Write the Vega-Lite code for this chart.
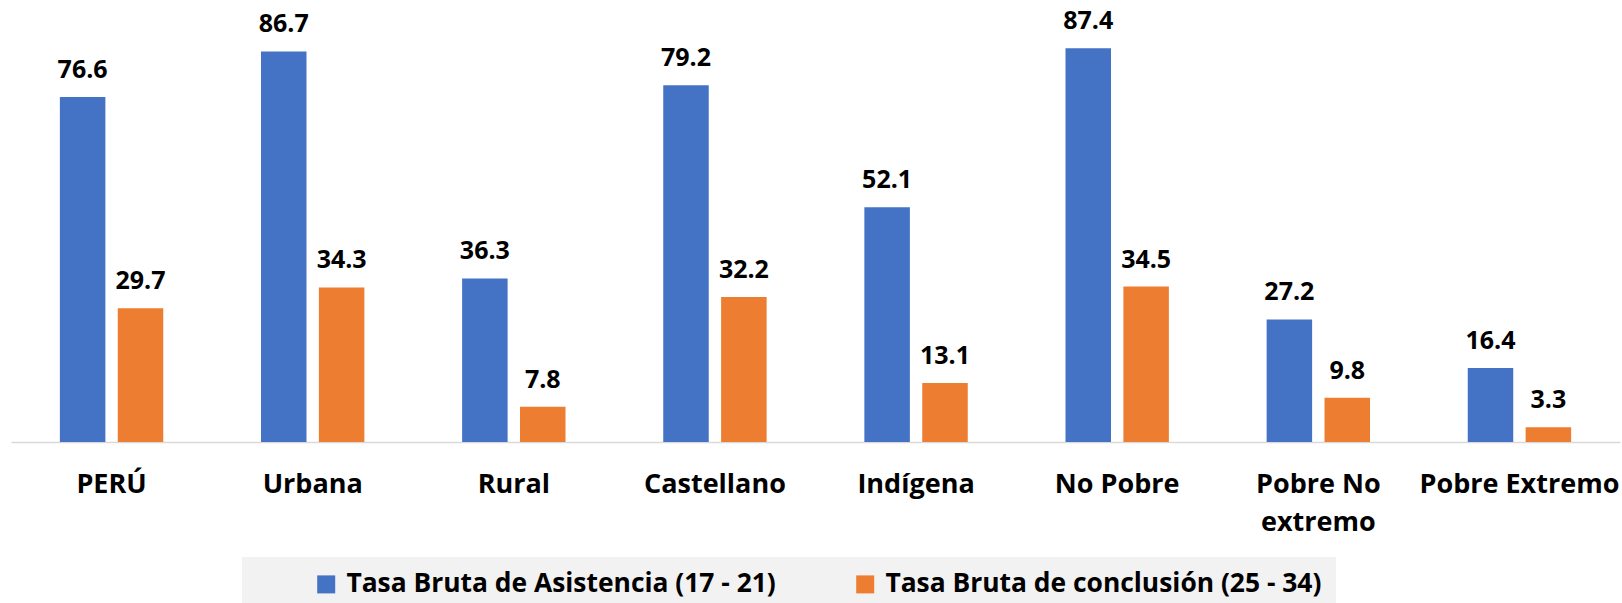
{
  "$schema": "https://vega.github.io/schema/vega-lite/v6.json",
  "width": 1609,
  "height": 437,
  "autosize": "none",
  "padding": {"left": 11, "top": 5, "right": 2, "bottom": 161},
  "background": "white",
  "config": {
    "view": {"stroke": null},
    "font": "Open Sans"
  },
  "data": {
    "values": [
      {"cat": "PERÚ", "serie": "Tasa Bruta de Asistencia (17 - 21)", "value": 76.6},
      {"cat": "Urbana", "serie": "Tasa Bruta de Asistencia (17 - 21)", "value": 86.7},
      {"cat": "Rural", "serie": "Tasa Bruta de Asistencia (17 - 21)", "value": 36.3},
      {"cat": "Castellano", "serie": "Tasa Bruta de Asistencia (17 - 21)", "value": 79.2},
      {"cat": "Indígena", "serie": "Tasa Bruta de Asistencia (17 - 21)", "value": 52.1},
      {"cat": "No Pobre", "serie": "Tasa Bruta de Asistencia (17 - 21)", "value": 87.4},
      {"cat": "Pobre No extremo", "serie": "Tasa Bruta de Asistencia (17 - 21)", "value": 27.2},
      {"cat": "Pobre Extremo", "serie": "Tasa Bruta de Asistencia (17 - 21)", "value": 16.4},
      {"cat": "PERÚ", "serie": "Tasa Bruta de conclusión (25 - 34)", "value": 29.7},
      {"cat": "Urbana", "serie": "Tasa Bruta de conclusión (25 - 34)", "value": 34.3},
      {"cat": "Rural", "serie": "Tasa Bruta de conclusión (25 - 34)", "value": 7.8},
      {"cat": "Castellano", "serie": "Tasa Bruta de conclusión (25 - 34)", "value": 32.2},
      {"cat": "Indígena", "serie": "Tasa Bruta de conclusión (25 - 34)", "value": 13.1},
      {"cat": "No Pobre", "serie": "Tasa Bruta de conclusión (25 - 34)", "value": 34.5},
      {"cat": "Pobre No extremo", "serie": "Tasa Bruta de conclusión (25 - 34)", "value": 9.8},
      {"cat": "Pobre Extremo", "serie": "Tasa Bruta de conclusión (25 - 34)", "value": 3.3}
    ]
  },
  "encoding": {
    "x": {
      "field": "cat",
      "type": "nominal",
      "sort": null,
      "scale": {"paddingInner": 0.486, "paddingOuter": 0.243},
      "axis": {
        "title": null,
        "labelAngle": 0,
        "ticks": false,
        "domainColor": "#d9d9d9",
        "domainWidth": 1.5,
        "labelFont": "Open Sans",
        "labelFontSize": 27,
        "labelFontWeight": "bold",
        "labelColor": "#000000",
        "labelPadding": 29,
        "labelLineHeight": 38,
        "labelLimit": 400,
        "labelExpr": "datum.value == 'Pobre No extremo' ? ['Pobre No', 'extremo'] : datum.value"
      }
    },
    "xOffset": {
      "field": "serie",
      "type": "nominal",
      "scale": {"paddingInner": 0.214, "paddingOuter": 0}
    },
    "y": {
      "field": "value",
      "type": "quantitative",
      "scale": {"domain": [0, 97], "nice": false},
      "axis": null
    }
  },
  "layer": [
    {
      "mark": {"type": "bar"},
      "encoding": {
        "color": {
          "field": "serie",
          "type": "nominal",
          "scale": {"range": ["#4472C4", "#ED7D31"]},
          "legend": {
            "orient": "none",
            "legendX": 231,
            "legendY": 552,
            "direction": "horizontal",
            "title": "\u00a0",
            "titleOrient": "left",
            "titleFontSize": 10,
            "titlePadding": 57,
            "fillColor": "#f2f2f2",
            "padding": 14,
            "symbolType": "square",
            "symbolSize": 324,
            "symbolStrokeWidth": 0,
            "labelFont": "Open Sans",
            "labelFontSize": 26.4,
            "labelFontWeight": "bold",
            "labelColor": "#000000",
            "labelOffset": 7,
            "labelLimit": 800,
            "columnPadding": 76,
            "labelExpr": "datum.value == 'Tasa Bruta de conclusión (25 - 34)' ? datum.label + '\u00a0\u00a0\u00a0\u00a0\u00a0\u00a0\u00a0\u00a0\u00a0' : datum.label"
          }
        }
      }
    },
    {
      "mark": {
        "type": "text",
        "font": "Open Sans",
        "fontSize": 25,
        "fontWeight": "bold",
        "color": "#000000",
        "baseline": "alphabetic",
        "dy": -19
      },
      "encoding": {
        "text": {"field": "value", "type": "quantitative", "format": ".1f"}
      }
    }
  ]
}
